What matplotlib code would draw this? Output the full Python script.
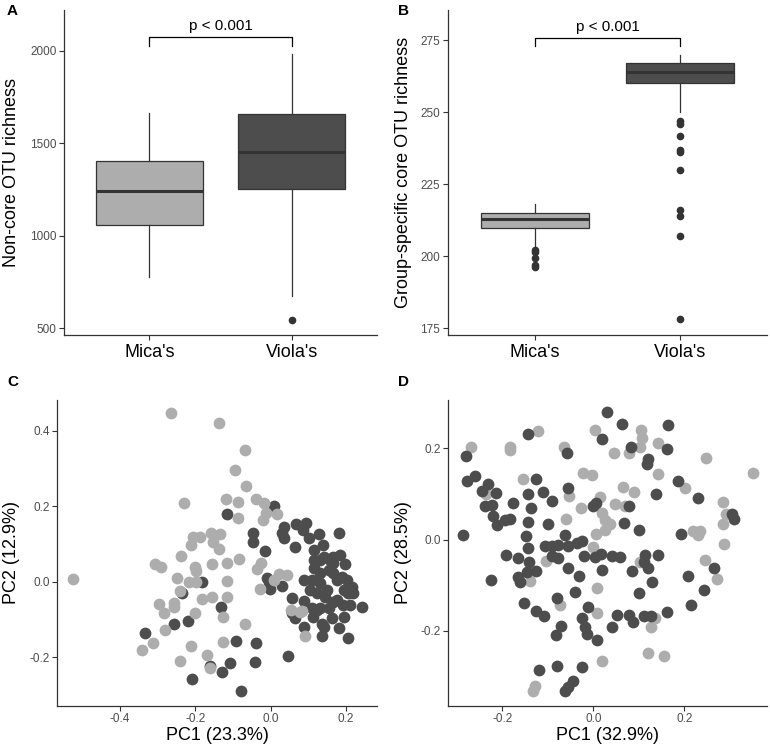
import matplotlib
matplotlib.use("Agg")
import matplotlib.pyplot as plt

plt.rcParams['font.family'] = ['Liberation Sans', 'DejaVu Sans']
plt.rcParams['axes.unicode_minus'] = False

groups = ["Mica's", "Viola's"]
light = '#ADADAD'
dark = '#4D4D4D'

# panel A - non-core OTU richness (box stats)
a_low = [774, 671]
a_q1 = [1056, 1253]
a_med = [1240, 1451]
a_q3 = [1406, 1657]
a_high = [1666, 1984]
a_out = [[], [543]]

# panel B - group-specific core OTU richness
b_low = [203, 250]
b_q1 = [210, 260]
b_med = [213, 264]
b_q3 = [215, 267]
b_high = [218, 270]
b_out = [[202.3, 201.6, 199.3, 197.0, 196.2],
         [246.9, 246.1, 241.9, 237.0, 236.1, 230.0, 216.2, 213.9, 207.1, 178.2]]

# panel C - PCA
cx_mica = [-0.264, -0.138, -0.068, -0.094, -0.066, -0.231, -0.118, -0.087, -0.086, -0.038,
           -0.018, -0.013, -0.019, 0.016, -0.205, -0.188, -0.211, -0.159, -0.135, -0.154,
           -0.137, -0.238, -0.306, -0.292, -0.200, -0.198, -0.156, -0.115, -0.085, -0.026,
           -0.035, -0.249, -0.218, -0.198, -0.115, 0.022, 0.044, 0.009, -0.028, -0.526,
           -0.242, -0.297, -0.284, -0.257, -0.256, -0.183, -0.156, -0.115, -0.201, -0.126,
           -0.067, -0.282, -0.313, -0.342, -0.211, -0.126, -0.241, -0.169, -0.160, 0.077,
           0.091, 0.053, 0.084]
cy_mica = [0.447, 0.420, 0.350, 0.296, 0.254, 0.208, 0.220, 0.211, 0.170, 0.219,
           0.210, 0.181, 0.164, 0.180, 0.119, 0.119, 0.097, 0.128, 0.127, 0.106,
           0.086, 0.068, 0.047, 0.038, 0.040, 0.027, 0.047, 0.049, 0.059, 0.049,
           0.033, 0.009, 0.000, 0.000, 0.003, 0.019, 0.018, 0.004, -0.019, 0.007,
           -0.024, -0.058, -0.082, -0.056, -0.068, -0.045, -0.040, -0.042, -0.084, -0.093,
           -0.113, -0.128, -0.164, -0.180, -0.170, -0.159, -0.211, -0.195, -0.230, -0.080,
           -0.144, -0.075, -0.077]
cx_viola = [-0.115, 0.009, -0.047, -0.047, -0.016, 0.035, 0.031, 0.035, 0.066, 0.068,
            0.093, 0.085, 0.101, 0.128, 0.139, 0.183, 0.185, 0.198, 0.115, 0.141,
            0.159, 0.115, 0.132, 0.154, 0.167, 0.176, 0.203, 0.216, 0.220, 0.242,
            0.211, 0.192, 0.167, 0.145, 0.123, 0.106, 0.090, 0.110, 0.132, 0.150,
            0.194, 0.057, 0.031, -0.002, -0.004, -0.009, 0.090, 0.110, 0.132, 0.154,
            0.056, 0.066, 0.088, 0.113, 0.141, 0.162, 0.196, 0.183, 0.207, 0.137,
            0.137, 0.176, 0.123, -0.182, -0.235, -0.132, -0.220, -0.258, -0.333, -0.093,
            -0.040, -0.041, -0.107, -0.130, -0.161, -0.209, -0.078, 0.046, 0.167, 0.167,
            0.132, 0.207, 0.115, 0.189]
cy_viola = [0.179, 0.202, 0.128, 0.106, 0.081, 0.146, 0.128, 0.115, 0.091, 0.152,
            0.155, 0.137, 0.115, 0.126, 0.097, 0.130, 0.071, 0.047, 0.084, 0.066,
            0.058, 0.035, 0.022, 0.031, 0.022, 0.004, 0.004, -0.013, -0.031, -0.068,
            -0.062, -0.062, -0.053, -0.040, -0.031, -0.022, 0.004, 0.004, -0.004, -0.022,
            -0.022, -0.044, -0.011, -0.020, 0.000, 0.009, -0.050, -0.071, -0.071, -0.071,
            -0.084, -0.096, -0.121, -0.093, -0.119, -0.096, -0.093, -0.122, -0.150, -0.143,
            -0.111, -0.049, -0.075, 0.000, -0.031, -0.066, -0.104, -0.111, -0.135, -0.157,
            -0.162, -0.212, -0.215, -0.239, -0.224, -0.257, -0.290, -0.196, 0.066, 0.049,
            0.058, -0.031, 0.058, 0.013]

# panel D - PCA
dx_mica = [-0.269, -0.183, -0.183, -0.122, -0.064, 0.004, 0.045, 0.078, 0.104, 0.106,
           0.103, 0.143, 0.247, 0.352, -0.022, -0.004, -0.155, -0.053, 0.066, 0.090,
           0.143, 0.201, -0.027, 0.015, 0.048, 0.070, 0.018, 0.026, 0.037, 0.026,
           0.006, -0.061, 0.284, 0.291, 0.286, 0.218, 0.229, 0.234, 0.288, 0.245,
           0.271, -0.001, -0.105, -0.139, 0.009, -0.073, 0.007, 0.103, 0.136, 0.126,
           0.121, 0.156, 0.020, -0.128, -0.132, -0.236]
dy_mica = [0.202, 0.202, 0.197, 0.237, 0.202, 0.240, 0.190, 0.190, 0.240, 0.223,
           0.202, 0.211, 0.178, 0.147, 0.146, 0.141, 0.132, 0.096, 0.116, 0.104,
           0.143, 0.112, 0.070, 0.094, 0.077, 0.074, 0.059, 0.044, 0.035, 0.022,
           0.013, 0.046, 0.082, 0.055, 0.035, 0.018, 0.009, 0.018, -0.010, -0.044,
           -0.087, -0.016, -0.048, -0.090, -0.107, -0.143, -0.160, -0.049, -0.171, -0.191,
           -0.248, -0.255, -0.265, -0.320, -0.331, 0.101]
dx_viola = [0.031, 0.062, 0.163, -0.144, 0.020, 0.082, 0.161, -0.059, -0.280, 0.121,
            0.117, -0.260, -0.278, -0.127, -0.055, 0.185, 0.137, 0.229, -0.245, -0.231,
            -0.214, -0.238, -0.223, -0.176, -0.143, -0.138, -0.110, -0.090, -0.220, -0.211,
            -0.194, -0.183, -0.144, -0.099, -0.287, -0.149, -0.144, -0.062, 0.000, 0.005,
            0.067, 0.100, 0.079, 0.304, 0.310, 0.193, -0.192, -0.166, -0.141, -0.145,
            -0.127, -0.165, -0.161, -0.226, -0.106, -0.092, -0.078, -0.092, -0.077, -0.055,
            -0.037, -0.026, -0.020, 0.004, 0.017, 0.040, 0.059, -0.056, -0.031, 0.020,
            -0.040, -0.081, -0.152, -0.126, -0.108, -0.011, -0.024, -0.018, -0.072, -0.083,
            -0.015, 0.009, 0.040, 0.051, 0.078, 0.088, 0.111, 0.127, 0.161, 0.100,
            0.128, 0.085, 0.111, 0.121, 0.114, 0.143, 0.207, 0.243, 0.214, 0.265,
            -0.119, -0.080, -0.026, -0.062, -0.056, -0.044]
dy_viola = [0.279, 0.254, 0.251, 0.232, 0.221, 0.202, 0.199, 0.189, 0.184, 0.176,
            0.165, 0.140, 0.129, 0.132, 0.112, 0.129, 0.101, 0.092, 0.107, 0.121,
            0.103, 0.074, 0.076, 0.081, 0.101, 0.070, 0.104, 0.085, 0.051, 0.033,
            0.044, 0.045, 0.039, 0.034, 0.011, 0.007, -0.018, 0.011, 0.073, 0.081,
            0.037, 0.021, 0.074, 0.055, 0.046, 0.013, -0.033, -0.040, -0.050, -0.070,
            -0.068, -0.082, -0.092, -0.088, -0.015, -0.015, -0.011, -0.037, -0.040, -0.015,
            -0.007, -0.004, -0.037, -0.039, -0.032, -0.037, -0.039, -0.063, -0.079, -0.066,
            -0.114, -0.129, -0.140, -0.156, -0.167, -0.147, -0.171, -0.191, -0.189, -0.210,
            -0.206, -0.221, -0.191, -0.165, -0.165, -0.180, -0.168, -0.168, -0.158, -0.116,
            -0.094, -0.068, -0.050, -0.063, -0.033, -0.033, -0.079, -0.110, -0.143, -0.062,
            -0.285, -0.278, -0.279, -0.331, -0.324, -0.311]


def style_axes(ax):
    for side in ['top', 'right']:
        ax.spines[side].set_visible(False)
    for side in ['left', 'bottom']:
        ax.spines[side].set_color('#333333')
        ax.spines[side].set_linewidth(0.9)
    ax.tick_params(length=3.5, width=0.8, color='#333333', labelcolor='#4D4D4D',
                   labelsize=8.5, pad=2)


def box_panel(ax, low, q1, med, q3, high, out, ylabel, ylim, yticks, bracket_y, tip_y, text_y):
    stats = []
    for i in range(2):
        stats.append(dict(whislo=low[i], q1=q1[i], med=med[i], q3=q3[i],
                          whishi=high[i], fliers=out[i]))
    parts = ax.bxp(stats, positions=[1, 2], widths=0.75, patch_artist=True, showcaps=False,
                   boxprops=dict(edgecolor='#333333', linewidth=0.9),
                   medianprops=dict(color='#333333', linewidth=2.2),
                   whiskerprops=dict(color='#333333', linewidth=0.9),
                   flierprops=dict(marker='o', markerfacecolor='#333333',
                                   markeredgecolor='#333333', markersize=4.5))
    for patch, col in zip(parts['boxes'], [light, dark]):
        patch.set_facecolor(col)
    ax.set_xlim(0.4, 2.6)
    ax.set_ylim(*ylim)
    ax.set_yticks(yticks)
    ax.set_xticks([1, 2])
    ax.set_xticklabels(groups)
    style_axes(ax)
    ax.tick_params(axis='x', labelsize=13, labelcolor='black', pad=3)
    ax.plot([1, 1, 2, 2], [tip_y, bracket_y, bracket_y, tip_y], color='black', linewidth=0.9)
    ax.text(1.5, text_y, 'p < 0.001', ha='center', va='bottom', fontsize=11)
    ax.set_ylabel(ylabel, fontsize=13)


def pca_panel(ax, xm, ym, xv, yv, xlabel, ylabel, xlim, ylim, xticks, yticks, light_on_top):
    if light_on_top:
        ax.scatter(xv, yv, s=72, color=dark, linewidths=0)
        ax.scatter(xm, ym, s=72, color=light, linewidths=0)
    else:
        ax.scatter(xm, ym, s=72, color=light, linewidths=0)
        ax.scatter(xv, yv, s=72, color=dark, linewidths=0)
    ax.set_xlim(*xlim)
    ax.set_ylim(*ylim)
    ax.set_xticks(xticks)
    ax.set_yticks(yticks)
    ax.set_xticklabels(['%.1f' % t for t in xticks])
    ax.set_yticklabels(['%.1f' % t for t in yticks])
    style_axes(ax)
    ax.set_xlabel(xlabel, fontsize=13)
    ax.set_ylabel(ylabel, fontsize=13)


fig = plt.figure(figsize=(7.7, 7.5), dpi=100)

ax_a = fig.add_axes([0.0831, 0.5533, 0.4065, 0.4334])
box_panel(ax_a, a_low, a_q1, a_med, a_q3, a_high, a_out, 'Non-core OTU richness',
          (462, 2222), [500, 1000, 1500, 2000], 2078, 2027, 2100)
ax_a.yaxis.set_label_coords(-0.141, 0.5)

ax_b = fig.add_axes([0.5818, 0.5533, 0.4143, 0.4334])
box_panel(ax_b, b_low, b_q1, b_med, b_q3, b_high, b_out, 'Group-specific core OTU richness',
          (172.7, 285.5), [175, 200, 225, 250, 275], 275.9, 273.1, 277.3)
ax_b.yaxis.set_label_coords(-0.114, 0.5)

ax_c = fig.add_axes([0.0744, 0.0591, 0.4148, 0.4076])
pca_panel(ax_c, cx_mica, cy_mica, cx_viola, cy_viola, 'PC1 (23.3%)', 'PC2 (12.9%)',
          (-0.567, 0.282), (-0.329, 0.482), [-0.4, -0.2, 0.0, 0.2], [-0.2, 0.0, 0.2, 0.4], True)
ax_c.yaxis.set_label_coords(-0.117, 0.5)
ax_c.xaxis.set_label_coords(0.5, -0.07)

ax_d = fig.add_axes([0.5822, 0.0591, 0.4135, 0.4076])
pca_panel(ax_d, dx_mica, dy_mica, dx_viola, dy_viola, 'PC1 (32.9%)', 'PC2 (28.5%)',
          (-0.319, 0.381), (-0.364, 0.306), [-0.2, 0.0, 0.2], [-0.2, 0.0, 0.2], False)
ax_d.yaxis.set_label_coords(-0.115, 0.5)
ax_d.xaxis.set_label_coords(0.5, -0.07)

for lab, x, y in [('A', 0.009, 0.995), ('B', 0.517, 0.995), ('C', 0.009, 0.5), ('D', 0.517, 0.5)]:
    fig.text(x, y, lab, fontsize=11, fontweight='bold', ha='left', va='top')

fig.savefig('out.png', dpi=100)
